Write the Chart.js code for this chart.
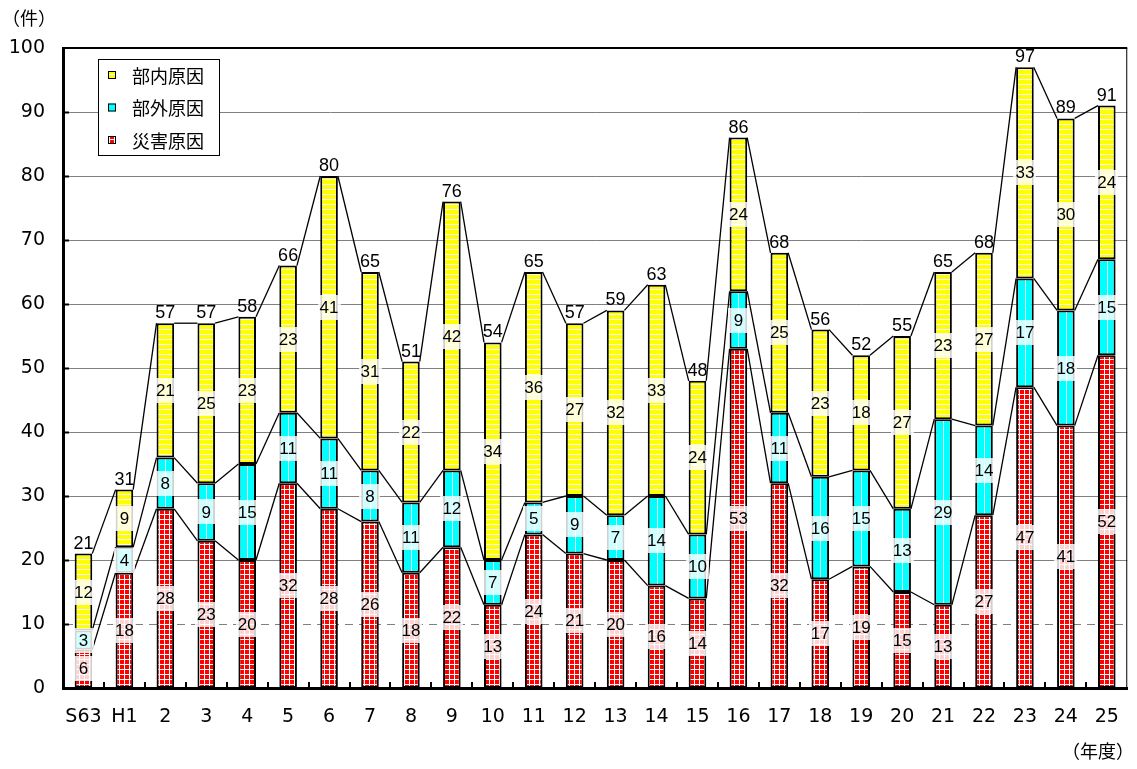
<!DOCTYPE html>
<html lang="ja">
<head>
<meta charset="utf-8">
<title>事故件数の推移</title>
<script src="https://cdn.jsdelivr.net/npm/chart.js@4.4.0/dist/chart.umd.min.js"></script>
<style>
  html, body { margin: 0; padding: 0; background: #fff; }
  #wrap { width: 1137px; height: 769px; }
</style>
</head>
<body>
<div id="wrap"><canvas id="chart" width="1137" height="769"></canvas></div>
<script>
// --- データ ---
const nendo = ['S63', 'H1', '2', '3', '4', '5', '6', '7', '8', '9', '10', '11', '12',
               '13', '14', '15', '16', '17', '18', '19', '20', '21', '22', '23', '24', '25'];
const saigai = [6, 18, 28, 23, 20, 32, 28, 26, 18, 22, 13, 24, 21, 20, 16, 14, 53, 32, 17, 19, 15, 13, 27, 47, 41, 52];
const bugai  = [3, 4, 8, 9, 15, 11, 11, 8, 11, 12, 7, 5, 9, 7, 14, 10, 9, 11, 16, 15, 13, 29, 14, 17, 18, 15];
const bunai  = [12, 9, 21, 25, 23, 23, 41, 31, 22, 42, 34, 36, 27, 32, 33, 24, 24, 25, 23, 18, 27, 23, 27, 33, 30, 24];
const goukei = [21, 31, 57, 57, 58, 66, 80, 65, 51, 76, 54, 65, 57, 59, 63, 48, 86, 68, 56, 52, 55, 65, 68, 97, 89, 91];
const yMin = 0, yMax = 100, yStep = 10;

const FONT_NUM = '"Liberation Sans", Arial, sans-serif';
const FONT_AX = '"DejaVu Sans", sans-serif';
const FONT_JP = '"Noto Sans CJK JP", sans-serif';

// --- 模様 ---
function makePattern(w, h, draw) {
    const c = document.createElement('canvas');
    c.width = w; c.height = h;
    const g = c.getContext('2d');
    draw(g);
    return g.createPattern(c, 'repeat');
}
const redPat = makePattern(5, 5, g => {
    g.fillStyle = '#ff0000'; g.fillRect(0, 0, 5, 5);
    g.fillStyle = '#ffffff'; g.fillRect(4, 0, 1, 5); g.fillRect(0, 4, 5, 1);
});
const yellowPat = makePattern(5, 5, g => {
    g.fillStyle = '#ffff00'; g.fillRect(0, 0, 5, 5);
    g.fillStyle = '#ffffff'; g.fillRect(0, 4, 5, 1);
});
const CYAN = '#00ffff';

// --- 追加描画 ---
const zusatz = {
    id: 'zusatz',
    beforeDatasetsDraw(chart) {
        const { ctx, chartArea: a, scales: { y } } = chart;
        ctx.save();
        ctx.strokeStyle = '#808080';
        ctx.lineWidth = 1;
        for (let v = yMin + yStep; v < yMax; v += yStep) {
            const py = Math.round(y.getPixelForValue(v)) + 0.5;
            ctx.setLineDash(v === 10 ? [8, 6] : []);
            ctx.beginPath();
            ctx.moveTo(a.left + 2, py);
            ctx.lineTo(a.right, py);
            ctx.stroke();
        }
        ctx.setLineDash([]);
        // 枠
        ctx.strokeStyle = '#000';
        ctx.lineWidth = 2;
        ctx.beginPath();
        ctx.moveTo(a.left, Math.round(y.getPixelForValue(yMax)));
        ctx.lineTo(a.right, Math.round(y.getPixelForValue(yMax)));
        ctx.stroke();
        ctx.lineWidth = 1;
        ctx.beginPath();
        ctx.moveTo(a.right - 0.5, a.top);
        ctx.lineTo(a.right - 0.5, a.bottom);
        ctx.stroke();
        ctx.restore();
    },
    afterDatasetsDraw(chart) {
        const { ctx, chartArea: a, scales: { x, y } } = chart;
        const metas = chart.data.datasets.map((d, i) => chart.getDatasetMeta(i));
        ctx.save();

        // 部外原因の白い縦線
        ctx.strokeStyle = 'rgba(255,255,255,0.85)';
        ctx.lineWidth = 1;
        metas[1].data.forEach(el => {
            const p = el.getProps(['x', 'y', 'base'], true);
            const px = Math.round(p.x) + 0.5;
            ctx.beginPath();
            ctx.moveTo(px, p.y + 2);
            ctx.lineTo(px, p.base - 2);
            ctx.stroke();
        });

        // 区分線
        ctx.strokeStyle = '#000';
        ctx.lineWidth = 1.3;
        metas.forEach(meta => {
            for (let i = 0; i < meta.data.length - 1; i++) {
                const p0 = meta.data[i].getProps(['x', 'y', 'width'], true);
                const p1 = meta.data[i + 1].getProps(['x', 'y', 'width'], true);
                ctx.beginPath();
                ctx.moveTo(p0.x + p0.width / 2, p0.y);
                ctx.lineTo(p1.x - p1.width / 2, p1.y);
                ctx.stroke();
            }
        });

        // 内訳ラベル
        ctx.font = '17px ' + FONT_NUM;
        ctx.textAlign = 'center';
        ctx.textBaseline = 'middle';
        metas.forEach((meta, di) => {
            const vals = chart.data.datasets[di].data;
            meta.data.forEach((el, i) => {
                const p = el.getProps(['x', 'y', 'base'], true);
                const cy = (p.y + p.base) / 2;
                const txt = String(vals[i]);
                const tw = ctx.measureText(txt).width;
                const bw = Math.max(21, tw + 4), bh = 25;
                ctx.fillStyle = 'rgba(255,255,255,0.82)';
                ctx.fillRect(Math.round(p.x - bw / 2), Math.round(cy - bh / 2), bw, bh);
                ctx.fillStyle = '#000';
                ctx.fillText(txt, p.x, cy + 1);
            });
        });

        // 合計
        ctx.font = '18px ' + FONT_NUM;
        ctx.textBaseline = 'alphabetic';
        metas[2].data.forEach((el, i) => {
            const p = el.getProps(['x', 'y'], true);
            ctx.fillText(String(goukei[i]), p.x, p.y - 5);
        });

        // 目盛（内向き）
        ctx.strokeStyle = '#000';
        ctx.lineWidth = 2;
        for (let v = yMin + yStep; v < yMax; v += yStep) {
            const py = Math.round(y.getPixelForValue(v)) + 0.5;
            ctx.beginPath();
            ctx.moveTo(a.left, py);
            ctx.lineTo(a.left + 6, py);
            ctx.stroke();
        }
        const cw = (a.right - a.left) / nendo.length;
        for (let i = 1; i < nendo.length; i++) {
            const px = Math.round(x.getPixelForValue(i) - cw / 2);
            ctx.beginPath();
            ctx.moveTo(px, a.bottom);
            ctx.lineTo(px, a.bottom - 6);
            ctx.stroke();
        }

        // 凡例
        const lx = a.left + 35, ly = a.top + 11, lw = 121, lh = 96;
        ctx.fillStyle = '#fff';
        ctx.fillRect(lx, ly, lw, lh);
        ctx.strokeStyle = '#000';
        ctx.lineWidth = 1;
        ctx.strokeRect(lx + 0.5, ly + 0.5, lw, lh);
        const items = chart.data.datasets.slice().reverse();
        ctx.font = '18px ' + FONT_JP;
        ctx.textAlign = 'left';
        ctx.textBaseline = 'middle';
        items.forEach((d, k) => {
            const cy = ly + 16 + k * 32.5;
            ctx.fillStyle = d.backgroundColor;
            ctx.fillRect(lx + 10, cy - 4, 8, 8);
            ctx.strokeRect(lx + 10.5, cy - 3.5, 7, 7);
            ctx.fillStyle = '#000';
            ctx.fillText(d.label, lx + 34, cy + 1);
        });

        // 単位
        ctx.font = '18px ' + FONT_JP;
        ctx.fillText('（件）', 2, 18);
        ctx.textAlign = 'right';
        ctx.fillText('（年度）', 1134, 751);

        ctx.restore();
    }
};

new Chart(document.getElementById('chart'), {
    type: 'bar',
    data: {
        labels: nendo,
        datasets: [
            { label: '災害原因', data: saigai, backgroundColor: redPat },
            { label: '部外原因', data: bugai, backgroundColor: CYAN },
            { label: '部内原因', data: bunai, backgroundColor: yellowPat }
        ]
    },
    options: {
        responsive: false,
        animation: false,
        devicePixelRatio: 1,
        layout: { padding: { top: 48, right: 6, left: 0, bottom: 0 } },
        datasets: {
            bar: {
                borderColor: '#000',
                borderWidth: 2,
                borderSkipped: false,
                categoryPercentage: 1,
                barPercentage: 0.43
            }
        },
        plugins: {
            legend: { display: false },
            tooltip: { enabled: false },
            title: { display: false }
        },
        scales: {
            x: {
                stacked: true,
                grid: { display: false, drawTicks: false },
                border: { display: true, color: '#000', width: 3 },
                ticks: { color: '#000', font: { family: FONT_AX, size: 19 }, padding: 18, maxRotation: 0, autoSkip: false },
                afterFit: s => { s.height = 81; }
            },
            y: {
                stacked: true,
                min: yMin,
                max: yMax,
                grid: { display: false, drawTicks: false },
                border: { display: true, color: '#000', width: 3 },
                ticks: { stepSize: yStep, color: '#000', font: { family: FONT_AX, size: 19 }, padding: 18 },
                afterFit: s => { s.width = 63; }
            }
        }
    },
    plugins: [zusatz]
});
</script>
</body>
</html>
